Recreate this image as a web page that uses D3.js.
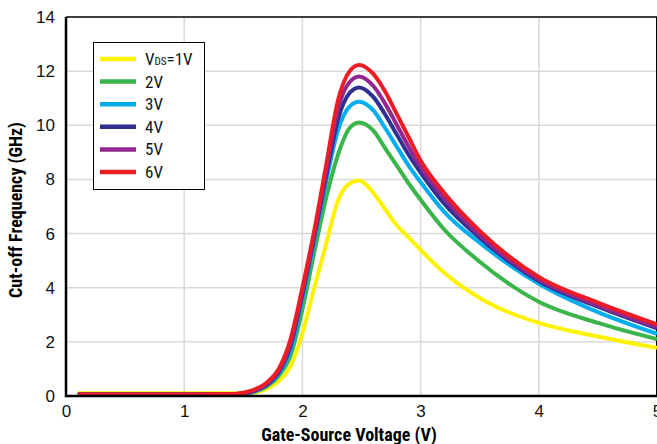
<!DOCTYPE html>
<html>
<head>
<meta charset="utf-8">
<script src="https://cdn.jsdelivr.net/npm/d3@7"></script>
<style>
  body { margin: 0; background: #fff; }
  text { font-family: "Liberation Sans Narrow", "Roboto Condensed", "DejaVu Sans Condensed", sans-serif; }
</style>
</head>
<body>
<div id="chart"></div>
<script>
// Gate-source voltage samples (V)
var vgs = [0.1, 1.0, 1.4, 1.5, 1.6, 1.7, 1.8, 1.9, 2.0, 2.1, 2.2, 2.3, 2.4, 2.48, 2.6, 2.7, 2.8, 2.9, 3.0, 3.2, 3.5, 4.0, 4.5, 5.0];

// Cut-off frequency (GHz) for each drain-source voltage
var ft1V = [0.1, 0.1, 0.1, 0.1, 0.13, 0.27, 0.55, 1.1, 2.3, 4.0, 5.6, 7.2, 7.85, 7.96, 7.5, 6.9, 6.3, 5.85, 5.4, 4.55, 3.62, 2.7, 2.2, 1.78];
var ft2V = [0.06, 0.06, 0.06, 0.08, 0.16, 0.36, 0.75, 1.5, 3.2, 5.3, 7.3, 8.9, 9.9, 10.1, 9.8, 9.15, 8.5, 7.85, 7.25, 6.15, 4.96, 3.48, 2.7, 2.1];
var ft3V = [0.06, 0.06, 0.06, 0.08, 0.18, 0.4, 0.82, 1.7, 3.6, 5.7, 7.9, 9.8, 10.7, 10.87, 10.55, 9.9, 9.2, 8.5, 7.9, 6.8, 5.66, 4.15, 3.1, 2.3];
var ft4V = [0.06, 0.06, 0.06, 0.09, 0.2, 0.42, 0.88, 1.85, 3.75, 5.85, 8.1, 10.2, 11.2, 11.4, 11.05, 10.4, 9.65, 8.9, 8.25, 7.1, 5.85, 4.25, 3.3, 2.5];
var ft5V = [0.06, 0.06, 0.06, 0.1, 0.22, 0.45, 0.92, 1.95, 3.85, 5.95, 8.3, 10.6, 11.6, 11.8, 11.45, 10.8, 10.0, 9.2, 8.45, 7.3, 5.95, 4.3, 3.35, 2.55];
var ft6V = [0.06, 0.06, 0.07, 0.12, 0.25, 0.5, 1.0, 2.1, 4.0, 6.1, 8.5, 10.9, 12.0, 12.23, 11.9, 11.25, 10.4, 9.55, 8.7, 7.5, 6.1, 4.4, 3.45, 2.65];

var seriesNames = ["1V", "2V", "3V", "4V", "5V", "6V"];
var seriesValues = [ft1V, ft2V, ft3V, ft4V, ft5V, ft6V];
var seriesColors = ["#fff200", "#39b54a", "#00aeef", "#2e3192", "#92278f", "#ed1c24"];

var xTicks = [0, 1, 2, 3, 4, 5];
var yTicks = [0, 2, 4, 6, 8, 10, 12, 14];

var svgWidth = 657;
var svgHeight = 444;
var margin = { top: 17, right: 0, bottom: 48, left: 66 };
var width = svgWidth - margin.left - margin.right;
var height = svgHeight - margin.top - margin.bottom;

var svg = d3.select("#chart")
  .append("svg")
  .attr("width", svgWidth)
  .attr("height", svgHeight);

var chartGroup = svg.append("g")
  .attr("transform", `translate(${margin.left}, ${margin.top})`);

var xScale = d3.scaleLinear().domain([0, 5]).range([0, width]);
var yScale = d3.scaleLinear().domain([0, 14]).range([height, 0]);

// gridlines
chartGroup.append("g")
  .selectAll("line.vgrid")
  .data(xTicks.filter(d => d > 0 && d < 5))
  .enter()
  .append("line")
  .attr("x1", d => xScale(d)).attr("x2", d => xScale(d))
  .attr("y1", 0).attr("y2", height)
  .attr("stroke", "#d9d9d9").attr("stroke-width", 1.5);

chartGroup.append("g")
  .selectAll("line.hgrid")
  .data(yTicks.filter(d => d > 0 && d < 14))
  .enter()
  .append("line")
  .attr("x1", 0).attr("x2", width)
  .attr("y1", d => yScale(d)).attr("y2", d => yScale(d))
  .attr("stroke", "#d9d9d9").attr("stroke-width", 1.5);

// frame (top and right thin)
chartGroup.append("line")
  .attr("x1", 0).attr("x2", width).attr("y1", 0).attr("y2", 0)
  .attr("stroke", "#000").attr("stroke-width", 1.5);
chartGroup.append("line")
  .attr("x1", width - 0.5).attr("x2", width - 0.5).attr("y1", 0).attr("y2", height)
  .attr("stroke", "#000").attr("stroke-width", 1);

// axes
var bottomAxis = d3.axisBottom(xScale).tickValues(xTicks).tickSize(0).tickPadding(9).tickFormat(d3.format("d"));
var leftAxis = d3.axisLeft(yScale).tickValues(yTicks).tickSize(0).tickPadding(11).tickFormat(d3.format("d"));

var xAxisG = chartGroup.append("g")
  .attr("transform", `translate(0, ${height})`)
  .call(bottomAxis);
var yAxisG = chartGroup.append("g").call(leftAxis);

[xAxisG, yAxisG].forEach(function(g) {
  g.select(".domain").remove();
  g.selectAll("text")
    .attr("font-size", "17px")
    .attr("fill", "#111")
    .style("font-family", "\"Liberation Sans Narrow\", sans-serif");
});

// curves
var line = d3.line()
  .x((d, i) => xScale(vgs[i]))
  .y(d => yScale(d))
  .curve(d3.curveMonotoneX);

chartGroup.append("g")
  .selectAll("path")
  .data(seriesValues)
  .enter()
  .append("path")
  .attr("d", d => line(d))
  .attr("fill", "none")
  .attr("stroke", (d, i) => seriesColors[i])
  .attr("stroke-width", 4)
  .attr("stroke-linejoin", "round");

// thick left and bottom axis lines
chartGroup.append("line")
  .attr("x1", 0).attr("x2", 0).attr("y1", 0).attr("y2", height + 1.25)
  .attr("stroke", "#000").attr("stroke-width", 2.5);
chartGroup.append("line")
  .attr("x1", 0).attr("x2", width).attr("y1", height).attr("y2", height)
  .attr("stroke", "#000").attr("stroke-width", 2.5);

// axis titles
svg.append("text")
  .attr("x", 349)
  .attr("y", 441)
  .attr("text-anchor", "middle")
  .attr("font-size", "18px")
  .attr("font-weight", "bold")
  .text("Gate-Source Voltage (V)");

svg.append("text")
  .attr("transform", "translate(22, 210) rotate(-90)")
  .attr("text-anchor", "middle")
  .attr("font-size", "18px")
  .attr("font-weight", "bold")
  .text("Cut-off Frequency (GHz)");

// legend
var legend = svg.append("g").attr("transform", "translate(93, 42)");
legend.append("rect")
  .attr("x", 0.5).attr("y", 0.5)
  .attr("width", 111).attr("height", 147)
  .attr("fill", "#fff").attr("stroke", "#000").attr("stroke-width", 1);

var rows = legend.selectAll("g.row")
  .data(seriesNames)
  .enter()
  .append("g")
  .attr("transform", (d, i) => `translate(0, ${17 + i * 22.6})`);

rows.append("line")
  .attr("x1", 7).attr("x2", 43)
  .attr("y1", 0).attr("y2", 0)
  .attr("stroke", (d, i) => seriesColors[i])
  .attr("stroke-width", 4.5);

rows.append("text")
  .attr("x", 52)
  .attr("y", 6)
  .attr("font-size", "17px")
  .attr("fill", "#111")
  .each(function(d, i) {
    var t = d3.select(this);
    if (i === 0) {
      t.append("tspan").text("V");
      t.append("tspan").attr("font-size", "11px").text("DS");
      t.append("tspan").text("=" + d);
    } else {
      t.text(d);
    }
  });
</script>
</body>
</html>
